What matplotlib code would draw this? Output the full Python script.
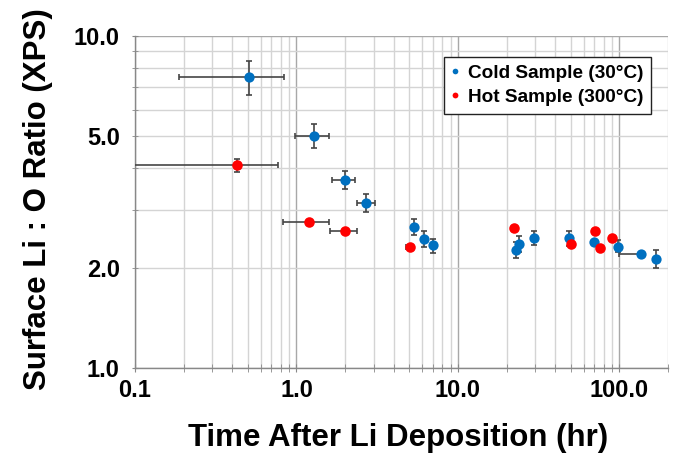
import matplotlib
matplotlib.use("Agg")
import matplotlib.pyplot as plt
from matplotlib.ticker import LogLocator, FuncFormatter, NullFormatter
import numpy as np

plt.rcParams['font.family'] = ['Liberation Sans', 'DejaVu Sans']
plt.rcParams['font.weight'] = 'bold'

# Cold sample (30 C): time (hr), ratio, and error bounds
cold_t = [0.509, 1.28, 2.0, 2.68, 5.34, 6.15, 7.0, 22.9, 24.0, 29.5, 48.5, 70.0, 97.5, 136, 168]
cold_r = [7.52, 5.01, 3.68, 3.15, 2.65, 2.45, 2.34, 2.27, 2.36, 2.46, 2.46, 2.40, 2.32, 2.20, 2.13]
cold_t_lo = [0.186, 0.98, 1.67, 2.38, 5.34, 6.15, 7.0, 22.9, 24.0, 29.5, 48.5, 70.0, 97.5, 100, 168]
cold_t_hi = [0.838, 1.585, 2.30, 3.06, 5.34, 6.15, 7.0, 22.9, 24.0, 29.5, 48.5, 70.0, 97.5, 142, 168]
cold_r_lo = [6.63, 4.60, 3.45, 2.95, 2.52, 2.31, 2.22, 2.15, 2.24, 2.34, 2.33, 2.40, 2.23, 2.20, 2.00]
cold_r_hi = [8.42, 5.44, 3.91, 3.34, 2.81, 2.59, 2.44, 2.39, 2.49, 2.58, 2.59, 2.40, 2.43, 2.20, 2.26]

# Hot sample (300 C)
hot_t = [0.429, 1.19, 2.0, 5.02, 22.4, 50.2, 71.0, 75.9, 90.0]
hot_r = [4.08, 2.76, 2.59, 2.32, 2.64, 2.36, 2.59, 2.30, 2.46]
hot_t_lo = [0.08, 0.831, 1.62, 4.75, 22.4, 50.2, 71.0, 75.9, 90.0]
hot_t_hi = [0.766, 1.585, 2.37, 5.30, 22.4, 50.2, 71.0, 75.9, 90.0]
hot_r_lo = [3.89, 2.76, 2.59, 2.32, 2.64, 2.36, 2.59, 2.30, 2.46]
hot_r_hi = [4.25, 2.76, 2.59, 2.32, 2.64, 2.36, 2.59, 2.30, 2.46]

fig = plt.figure(figsize=(6.75, 4.55), dpi=100)
ax = fig.add_axes([135 / 675, 1 - 368 / 455, 533 / 675, 332 / 455])

ax.set_xscale('log')
ax.set_yscale('log')
ax.set_xlim(0.1, 200)
ax.set_ylim(1, 10)


def err(v, lo, hi):
    v = np.array(v)
    return [v - np.array(lo), np.array(hi) - v]


ecol = '#454545'
ax.errorbar(cold_t, cold_r, xerr=err(cold_t, cold_t_lo, cold_t_hi),
            yerr=err(cold_r, cold_r_lo, cold_r_hi), fmt='none',
            ecolor=ecol, elinewidth=1.2, capsize=2, capthick=1.2, zorder=3)
ax.errorbar(hot_t, hot_r, xerr=err(hot_t, hot_t_lo, hot_t_hi),
            yerr=err(hot_r, hot_r_lo, hot_r_hi), fmt='none',
            ecolor=ecol, elinewidth=1.2, capsize=2, capthick=1.2, zorder=3)
ax.plot(cold_t, cold_r, 'o', color='#0070C0', ms=7.4, mew=0, zorder=4,
        label='Cold Sample (30°C)')
ax.plot(hot_t, hot_r, 'o', color='#FF0000', ms=7.6, mew=0, zorder=5,
        label='Hot Sample (300°C)')

# ticks and grid
for axis in (ax.xaxis, ax.yaxis):
    axis.set_major_locator(LogLocator(base=10))
    axis.set_minor_locator(LogLocator(base=10, subs=np.arange(2, 10)))

ax.xaxis.set_major_formatter(FuncFormatter(lambda v, p: f"{v:.1f}"))
ax.xaxis.set_minor_formatter(NullFormatter())
ax.yaxis.set_major_formatter(FuncFormatter(lambda v, p: f"{v:.1f}"))
ax.yaxis.set_minor_formatter(FuncFormatter(
    lambda v, p: f"{v:.1f}" if round(v, 3) in (2.0, 5.0) else ""))

ax.grid(True, which='major', color='#a8a8a8', lw=1.0, zorder=0)
ax.grid(True, which='minor', color='#d4d4d4', lw=1.0, zorder=0)
ax.set_axisbelow(True)

ax.tick_params(axis='both', which='both', labelsize=17, colors='#888888',
               labelcolor='black', direction='inout')
ax.tick_params(axis='x', which='both', length=6, pad=5)
ax.tick_params(axis='y', which='both', length=4, pad=9)

for s in ('top', 'right'):
    ax.spines[s].set_visible(False)
for s in ('left', 'bottom'):
    ax.spines[s].set_color('#888888')
    ax.spines[s].set_linewidth(1.0)

fig.text(398 / 675, 1 - 438 / 455, 'Time After Li Deposition (hr)',
         ha='center', va='center', fontsize=22.5, fontweight='bold')
fig.text(38 / 675, 1 - 199 / 455, 'Surface Li : O Ratio (XPS)',
         ha='center', va='center', rotation=90, fontsize=22.5, fontweight='bold')

leg = ax.legend(loc='upper right', bbox_to_anchor=(651 / 675, 1 - 57 / 455),
                bbox_transform=fig.transFigure, borderaxespad=0,
                prop={'size': 13.7, 'weight': 'bold'}, markerscale=0.55,
                handlelength=0.3, handletextpad=0.55, labelspacing=0.35,
                borderpad=0.4, fancybox=False, framealpha=1)
leg.get_frame().set_edgecolor('#222222')
leg.get_frame().set_linewidth(1.0)

fig.savefig('out.png', dpi=100)
